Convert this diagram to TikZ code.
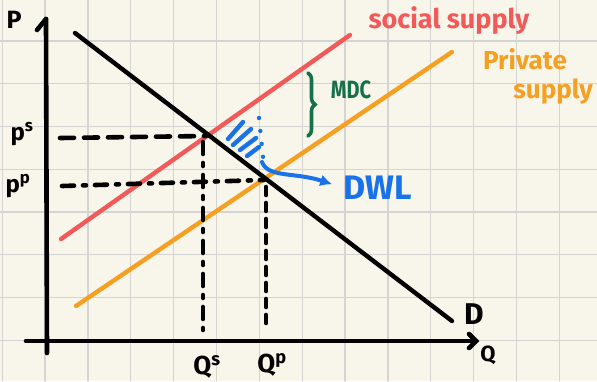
\documentclass[tikz,border=0pt]{standalone}
\usepackage{fontspec}
\setmainfont{Fira Sans}
\usetikzlibrary{arrows.meta,positioning,decorations.pathreplacing}

\definecolor{paper}{HTML}{F8F6EA}
\definecolor{gridgray}{HTML}{D4D4D2}
\definecolor{socialred}{HTML}{F25A5A}
\definecolor{privorange}{HTML}{F5A023}
\definecolor{mdcgreen}{HTML}{16704A}
\definecolor{dwlblue}{HTML}{1A72E8}

\newcommand{\penfont}[1]{\fontsize{#1}{#1}\selectfont}

\begin{document}
\begin{tikzpicture}[x=1pt,y=-1pt,>=Latex,line cap=round,
  axis/.style={line width=4.6pt},
  curveline/.style={line width=4.4pt},
  guide/.style={line width=4.6pt,dash pattern=on 14pt off 10pt},
  guidedot/.style={line width=4.6pt,dash pattern=on 12pt off 9pt on 3pt off 9pt},
  lbl/.style={font=\bfseries,inner sep=0pt}]
\useasboundingbox (0,0) rectangle (597,381);
\fill[paper] (0,0) rectangle (597,381);
% paper grid
\foreach \i in {0,...,13} {
  \draw[gridgray,line width=1.3pt] (2.2+42.85*\i,0) -- ++(0,381);
}
\foreach \j in {1,...,9} {
  \draw[gridgray,line width=1.3pt] (0,-1.8+42.75*\j) -- ++(597,0);
}
% key points
\coordinate (yTop) at (46,19);
\coordinate (yBot) at (47,353);
\coordinate (xLeft) at (26,341);
\coordinate (xEnd) at (476,341);
\coordinate (dTop) at (75,33);
\coordinate (dEnd) at (452,321);
\coordinate (sLo) at (61,239);
\coordinate (sHi) at (350,35);
\coordinate (pLo) at (76,306);
\coordinate (pHi) at (452,52);
\coordinate (eqS) at (206,136);
\coordinate (eqP) at (264,180);
% axes
\draw[axis] (yBot) -- (yTop);
\draw[axis] (yTop) -- ++(-9,11);
\draw[axis] (xLeft) -- (xEnd);
\draw[axis] (xEnd) ++(-7,-7) -- (xEnd) -- ++(-7,7);
% curves
\draw[curveline,socialred] (sLo) -- (sHi);
\draw[curveline,privorange] (pLo) -- (pHi);
\draw[curveline] (dTop) -- (dEnd);
% guides to the axes
\draw[guide] (60,138) -- (eqS);
\draw[guidedot] (62,186) -- (eqP);
\draw[guidedot] (203,142) -- (203,330);
\draw[guide,dash pattern=on 8pt off 8pt] (266,187) -- (266,330);
% labels
\node[lbl,font=\bfseries\penfont{25}] (pAxis) at (14,20) {P};
\node[lbl,font=\bfseries\penfont{24}] (psLab) at (22,134) {p\textsuperscript{s}};
\node[lbl,font=\bfseries\penfont{24}] (ppLab) at (18,186) {p\textsuperscript{p}};
\node[lbl,font=\bfseries\penfont{26}] (qsLab) at (207,367) {Q\textsuperscript{s}};
\node[lbl,font=\bfseries\penfont{26}] (qpLab) at (272,365) {Q\textsuperscript{p}};
\node[lbl,font=\bfseries\penfont{22}] (qAxis) at (488,355) {Q};
\node[lbl,font=\bfseries\penfont{30}] (dLab) at (474,314) {D};
\node[lbl,socialred,font=\bfseries\penfont{27}] (socLab) at (449,21) {social supply};
\node[lbl,privorange,font=\bfseries\penfont{26}] (privLab) at (525,59) {Private};
\node[lbl,privorange,font=\bfseries\penfont{26},anchor=east] (supLab) at (593,92) {supply};
% marginal damage cost
\draw[mdcgreen,line width=3.6pt,decorate,decoration={brace,amplitude=7pt}]
  (308,73) -- (308,136);
\node[lbl,mdcgreen,font=\bfseries\penfont{25},xscale=0.8] (mdcLab) at (351,90) {MDC};
% deadweight loss
\foreach \a/\b in {{228,139}/{243,122},{233,145}/{251,129},{240,150}/{256,138},{247,156}/{259,147}} {
  \draw[dwlblue,line width=4.4pt] (\a) -- (\b);
}
\draw[dwlblue,line width=4.4pt,dash pattern=on 0pt off 13pt] (259,118) -- (263,157);
\node[lbl,dwlblue,font=\bfseries\penfont{34}] (dwlLab) at (378,188) {DWL};
\draw[dwlblue,line width=4pt,-{Latex[length=12pt,width=12pt]},shorten >=12pt]
  (262,162) .. controls (268,178) and (295,172) .. (dwlLab.west);
\end{tikzpicture}
\end{document}
